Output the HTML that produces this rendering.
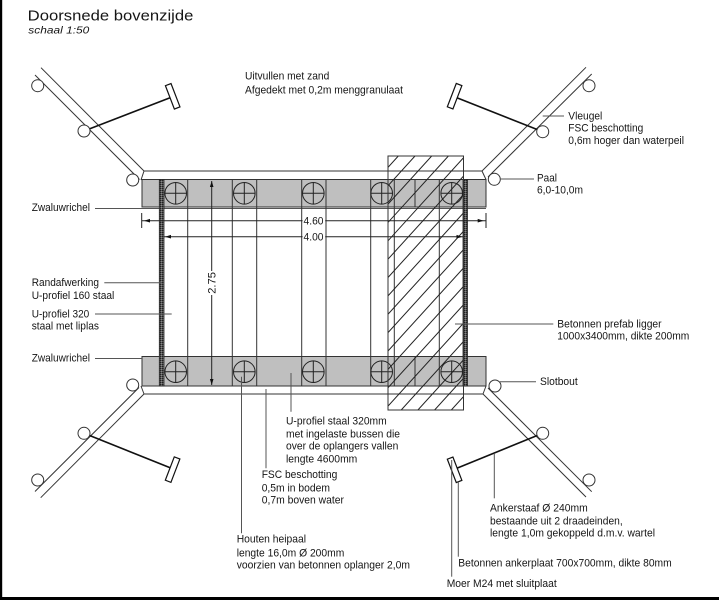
<!DOCTYPE html>
<html><head><meta charset="utf-8"><style>
html,body{margin:0;padding:0;background:#fff;}
svg{display:block;}
text{font-family:"Liberation Sans",Arial,sans-serif;font-size:11px;fill:#151515;}
</style></head><body>
<svg width="719" height="600" viewBox="0 0 719 600" xmlns="http://www.w3.org/2000/svg">
<defs>
<clipPath id="hc"><rect x="388" y="156" width="75.5" height="254"/></clipPath>
<pattern id="dk" width="2" height="2" patternUnits="userSpaceOnUse"><rect width="2" height="2" fill="#555"/><rect width="1" height="1" fill="#222"/><rect x="1" y="1" width="1" height="1" fill="#888"/></pattern>
</defs>
<rect width="719" height="600" fill="#fff"/>

<!-- title -->
<text x="27.7" y="20.7" style="font-size:15px" textLength="165.7" lengthAdjust="spacingAndGlyphs">Doorsnede  bovenzijde</text>
<text x="28.3" y="33.5" style="font-size:10px;font-style:italic" textLength="61" lengthAdjust="spacingAndGlyphs">schaal  1:50</text>

<!-- top beam -->
<g stroke="#333" stroke-width="1" fill="none">
<line x1="144" y1="171" x2="482" y2="171"/>
<line x1="144" y1="171" x2="141" y2="180"/>
<line x1="482" y1="171" x2="486" y2="179.5"/>
<rect x="142" y="179.5" width="344" height="27.5" fill="#bfbfbf"/>
<line x1="95" y1="208.5" x2="486" y2="208.5" stroke="#555"/>
<!-- bottom beam -->
<rect x="142" y="356.5" width="344" height="29.5" fill="#bfbfbf"/>
<line x1="95" y1="358.5" x2="142" y2="358.5" stroke="#555"/>
<line x1="144" y1="394" x2="483" y2="394"/>
<line x1="144" y1="394" x2="141" y2="386"/>
<line x1="483" y1="394" x2="486" y2="386"/>
</g>

<!-- vertical lines -->
<g stroke="#333" stroke-width="1">
<line x1="187.7" y1="179.5" x2="187.7" y2="386"/>
<line x1="232.3" y1="179.5" x2="232.3" y2="386"/>
<line x1="256.7" y1="179.5" x2="256.7" y2="386"/>
<line x1="301.7" y1="179.5" x2="301.7" y2="386"/>
<line x1="326" y1="179.5" x2="326" y2="386"/>
<line x1="370.7" y1="179.5" x2="370.7" y2="386"/>
<line x1="394.3" y1="179.5" x2="394.3" y2="386"/>
<line x1="439.3" y1="179.5" x2="439.3" y2="386"/>
<line x1="415" y1="179.5" x2="415" y2="207"/>
<line x1="415" y1="356.5" x2="415" y2="386"/>
</g>

<!-- thick bars -->
<rect x="159.3" y="179.5" width="4.7" height="206.5" fill="url(#dk)" stroke="#222" stroke-width="0.8"/>
<rect x="463" y="179.5" width="4.5" height="206.5" fill="url(#dk)" stroke="#222" stroke-width="0.8"/>

<!-- piles -->
<g stroke="#222" stroke-width="1" fill="none">
<circle cx="175.7" cy="193.3" r="10.8"/><line x1="164.9" y1="193.3" x2="186.5" y2="193.3"/><line x1="175.7" y1="182.5" x2="175.7" y2="204.1"/>
<circle cx="244.3" cy="193.3" r="10.8"/><line x1="233.5" y1="193.3" x2="255.1" y2="193.3"/><line x1="244.3" y1="182.5" x2="244.3" y2="204.1"/>
<circle cx="313.3" cy="193.3" r="10.8"/><line x1="302.5" y1="193.3" x2="324.1" y2="193.3"/><line x1="313.3" y1="182.5" x2="313.3" y2="204.1"/>
<circle cx="381.7" cy="193.3" r="10.8"/><line x1="370.9" y1="193.3" x2="392.5" y2="193.3"/><line x1="381.7" y1="182.5" x2="381.7" y2="204.1"/>
<circle cx="451.7" cy="193.3" r="10.8"/><line x1="440.9" y1="193.3" x2="462.5" y2="193.3"/><line x1="451.7" y1="182.5" x2="451.7" y2="204.1"/>
<circle cx="175.7" cy="371.7" r="10.8"/><line x1="164.9" y1="371.7" x2="186.5" y2="371.7"/><line x1="175.7" y1="360.9" x2="175.7" y2="382.5"/>
<circle cx="244.3" cy="371.7" r="10.8"/><line x1="233.5" y1="371.7" x2="255.1" y2="371.7"/><line x1="244.3" y1="360.9" x2="244.3" y2="382.5"/>
<circle cx="313.3" cy="371.7" r="10.8"/><line x1="302.5" y1="371.7" x2="324.1" y2="371.7"/><line x1="313.3" y1="360.9" x2="313.3" y2="382.5"/>
<circle cx="381.7" cy="371.7" r="10.8"/><line x1="370.9" y1="371.7" x2="392.5" y2="371.7"/><line x1="381.7" y1="360.9" x2="381.7" y2="382.5"/>
<circle cx="451.7" cy="371.7" r="10.8"/><line x1="440.9" y1="371.7" x2="462.5" y2="371.7"/><line x1="451.7" y1="360.9" x2="451.7" y2="382.5"/>
</g>

<!-- hatched concrete beam -->
<g clip-path="url(#hc)" stroke="#222" stroke-width="1">
<line x1="150.7" y1="410" x2="381.6" y2="156"/>
<line x1="167.4" y1="410" x2="398.3" y2="156"/>
<line x1="184.1" y1="410" x2="415.0" y2="156"/>
<line x1="200.8" y1="410" x2="431.7" y2="156"/>
<line x1="217.5" y1="410" x2="448.4" y2="156"/>
<line x1="234.2" y1="410" x2="465.1" y2="156"/>
<line x1="250.9" y1="410" x2="481.8" y2="156"/>
<line x1="267.6" y1="410" x2="498.5" y2="156"/>
<line x1="284.3" y1="410" x2="515.2" y2="156"/>
<line x1="301.0" y1="410" x2="531.9" y2="156"/>
<line x1="317.7" y1="410" x2="548.6" y2="156"/>
<line x1="334.4" y1="410" x2="565.3" y2="156"/>
<line x1="351.1" y1="410" x2="582.0" y2="156"/>
<line x1="367.8" y1="410" x2="598.7" y2="156"/>
<line x1="384.5" y1="410" x2="615.4" y2="156"/>
<line x1="401.2" y1="410" x2="632.1" y2="156"/>
<line x1="417.9" y1="410" x2="648.8" y2="156"/>
<line x1="434.6" y1="410" x2="665.5" y2="156"/>
<line x1="451.3" y1="410" x2="682.2" y2="156"/>
<line x1="468.0" y1="410" x2="698.9" y2="156"/>
</g>
<rect x="388" y="156" width="75.5" height="254" fill="none" stroke="#333" stroke-width="1"/>

<!-- dimensions -->
<g stroke="#222" stroke-width="1">
<line x1="141.7" y1="220.7" x2="486" y2="220.7"/>
<line x1="141.7" y1="213" x2="141.7" y2="228"/>
<line x1="486" y1="213" x2="486" y2="228"/>
<line x1="164" y1="236.7" x2="463" y2="236.7"/>
<line x1="211.7" y1="181" x2="211.7" y2="385"/>
</g>
<g fill="#111">
<polygon points="144,220.7 150,218.9 150,222.5"/>
<polygon points="483.7,220.7 477.7,218.9 477.7,222.5"/>
<polygon points="165,236.7 171,234.9 171,238.5"/>
<polygon points="462.5,236.7 456.5,234.9 456.5,238.5"/>
<polygon points="211.7,181 209.9,187 213.5,187"/>
<polygon points="211.7,385 209.9,379 213.5,379"/>
</g>
<rect x="302.6" y="215" width="22.6" height="11.5" fill="#fff"/>
<rect x="302.6" y="231" width="22.6" height="11.5" fill="#fff"/>
<rect x="206" y="271" width="11.4" height="24" fill="#fff"/>
<text x="303.5" y="224.7" textLength="20" lengthAdjust="spacingAndGlyphs">4.60</text>
<text x="303.5" y="240.7" textLength="20" lengthAdjust="spacingAndGlyphs">4.00</text>
<text x="0" y="0" transform="translate(215.7,293.8) rotate(-90)" textLength="21.7" lengthAdjust="spacingAndGlyphs">2.75</text>

<!-- wings -->
<g stroke="#333" stroke-width="1" fill="none">
<line x1="41" y1="67.7" x2="144" y2="171"/>
<line x1="35" y1="75" x2="139.5" y2="179.5"/>
<line x1="586" y1="67.3" x2="482" y2="171"/>
<line x1="591.7" y1="74" x2="488" y2="177"/>
<line x1="144" y1="394" x2="40.7" y2="497.7"/>
<line x1="139" y1="387.5" x2="35" y2="491.5"/>
<line x1="483" y1="394" x2="586" y2="497"/>
<line x1="488" y1="388" x2="591.7" y2="491.7"/>
</g>
<!-- anchor rods -->
<g stroke="#111" stroke-width="1.6">
<line x1="84" y1="131" x2="172" y2="97"/>
<line x1="542.7" y1="131.7" x2="455" y2="97"/>
<line x1="84" y1="433.3" x2="172" y2="468.5"/>
<line x1="542.7" y1="433.3" x2="455" y2="469"/>
</g>
<!-- plates -->
<g fill="#fff" stroke="#111" stroke-width="1.2">
<rect x="-3" y="-12.5" width="6" height="25" transform="translate(172.7,96.3) rotate(-21)"/>
<rect x="-3" y="-12.5" width="6" height="25" transform="translate(454.6,96.2) rotate(21)"/>
<rect x="-3" y="-12.5" width="6" height="25" transform="translate(172.6,469.6) rotate(21)"/>
<rect x="-3" y="-12.5" width="6" height="25" transform="translate(454.6,469.8) rotate(-21)"/>
</g>
<!-- wing piles -->
<g fill="#fff" stroke="#333" stroke-width="1">
<circle cx="37.7" cy="85.7" r="6"/>
<circle cx="84" cy="131" r="6"/>
<circle cx="132.7" cy="180" r="6"/>
<circle cx="589" cy="85.7" r="6"/>
<circle cx="542.7" cy="131.7" r="6"/>
<circle cx="494.3" cy="179.3" r="6"/>
<circle cx="132.7" cy="385" r="6"/>
<circle cx="84" cy="433.3" r="6"/>
<circle cx="37.7" cy="480" r="6"/>
<circle cx="495" cy="386" r="6"/>
<circle cx="542.7" cy="433.3" r="6"/>
<circle cx="589" cy="480" r="6"/>
</g>

<!-- leaders -->
<g stroke="#555" stroke-width="1">
<line x1="542.7" y1="116" x2="564" y2="116"/>
<line x1="500" y1="179" x2="534" y2="179"/>
<line x1="104.3" y1="282.7" x2="161.7" y2="282.7"/>
<line x1="95" y1="314" x2="171.7" y2="314"/>
<line x1="455" y1="324" x2="553.3" y2="324"/>
<line x1="500" y1="381.7" x2="536" y2="381.7"/>
<line x1="291" y1="373" x2="291" y2="411.7"/>
<line x1="266" y1="389" x2="266" y2="468.3"/>
<line x1="241.5" y1="376.7" x2="241.5" y2="533.3"/>
<line x1="494.3" y1="454" x2="494.3" y2="498.3"/>
<line x1="458.3" y1="481.7" x2="458.3" y2="556.7"/>
<line x1="451.7" y1="460" x2="451.7" y2="576.7"/>
</g>

<!-- labels -->
<g>
<text x="245" y="79.5" textLength="84.3" lengthAdjust="spacingAndGlyphs">Uitvullen met zand</text>
<text x="245" y="93.5" textLength="158" lengthAdjust="spacingAndGlyphs">Afgedekt met 0,2m menggranulaat</text>
<text x="568.3" y="119.5" textLength="34" lengthAdjust="spacingAndGlyphs">Vleugel</text>
<text x="568.3" y="131.7" textLength="75" lengthAdjust="spacingAndGlyphs">FSC beschotting</text>
<text x="568.3" y="144" textLength="115.7" lengthAdjust="spacingAndGlyphs">0,6m hoger dan waterpeil</text>
<text x="537" y="181.7" textLength="20" lengthAdjust="spacingAndGlyphs">Paal</text>
<text x="537" y="193.5" textLength="46" lengthAdjust="spacingAndGlyphs">6,0-10,0m</text>
<text x="31.7" y="211" textLength="58.3" lengthAdjust="spacingAndGlyphs">Zwaluwrichel</text>
<text x="31.7" y="286" textLength="67.3" lengthAdjust="spacingAndGlyphs">Randafwerking</text>
<text x="31.7" y="299" textLength="82.6" lengthAdjust="spacingAndGlyphs">U-profiel 160 staal</text>
<text x="31.7" y="317.5" textLength="57.6" lengthAdjust="spacingAndGlyphs">U-profiel 320</text>
<text x="31.7" y="329.5" textLength="67.3" lengthAdjust="spacingAndGlyphs">staal met liplas</text>
<text x="31.7" y="361.7" textLength="58.3" lengthAdjust="spacingAndGlyphs">Zwaluwrichel</text>
<text x="557.3" y="327.5" textLength="104.3" lengthAdjust="spacingAndGlyphs">Betonnen prefab ligger</text>
<text x="557.3" y="339.5" textLength="132" lengthAdjust="spacingAndGlyphs">1000x3400mm, dikte 200mm</text>
<text x="540" y="385" textLength="37.7" lengthAdjust="spacingAndGlyphs">Slotbout</text>
<text x="286" y="424.7" textLength="100.7" lengthAdjust="spacingAndGlyphs">U-profiel staal 320mm</text>
<text x="286" y="437.3" textLength="114" lengthAdjust="spacingAndGlyphs">met ingelaste bussen die</text>
<text x="286" y="449.7" textLength="112.3" lengthAdjust="spacingAndGlyphs">over de oplangers vallen</text>
<text x="286" y="462.3" textLength="71.3" lengthAdjust="spacingAndGlyphs">lengte 4600mm</text>
<text x="261.7" y="478" textLength="75.6" lengthAdjust="spacingAndGlyphs">FSC beschotting</text>
<text x="261.7" y="491.3" textLength="68.3" lengthAdjust="spacingAndGlyphs">0,5m in bodem</text>
<text x="261.7" y="503.3" textLength="82.3" lengthAdjust="spacingAndGlyphs">0,7m boven water</text>
<text x="236.7" y="542.3" textLength="69.3" lengthAdjust="spacingAndGlyphs">Houten heipaal</text>
<text x="236.7" y="556.5" textLength="107.6" lengthAdjust="spacingAndGlyphs">lengte 16,0m Ø 200mm</text>
<text x="236.7" y="568.3" textLength="173.3" lengthAdjust="spacingAndGlyphs">voorzien van betonnen oplanger 2,0m</text>
<text x="490" y="511.5" textLength="97.7" lengthAdjust="spacingAndGlyphs">Ankerstaaf Ø 240mm</text>
<text x="490" y="524.5" textLength="132.7" lengthAdjust="spacingAndGlyphs">bestaande uit 2 draadeinden,</text>
<text x="490" y="536.5" textLength="165" lengthAdjust="spacingAndGlyphs">lengte 1,0m gekoppeld d.m.v. wartel</text>
<text x="458.3" y="566.5" textLength="213.4" lengthAdjust="spacingAndGlyphs">Betonnen ankerplaat 700x700mm, dikte 80mm</text>
<text x="446.7" y="587" textLength="110" lengthAdjust="spacingAndGlyphs">Moer M24 met sluitplaat</text>
</g>

<!-- frame borders -->
<rect x="0" y="0" width="2.2" height="600" fill="#000"/>
<rect x="0" y="597" width="719" height="3" fill="#000"/>
</svg>
</body></html>
